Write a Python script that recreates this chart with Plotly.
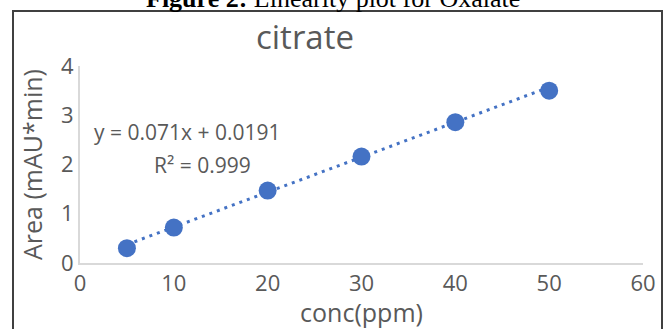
import plotly.graph_objects as go

# Calibration data for citrate
conc = [5, 10, 20, 30, 40, 50]
area = [0.30, 0.72, 1.47, 2.16, 2.86, 3.50]

# Linear fit reported on the chart
slope = 0.071
intercept = 0.0191
r_squared = 0.999

x_ticks = [0, 10, 20, 30, 40, 50, 60]
y_ticks = [0, 1, 2, 3, 4]

fit_x = [min(conc), max(conc)]
fit_y = [slope * x + intercept for x in fit_x]

blue = "#4472C4"
grey = "#595959"
font_family = "'Open Sans', sans-serif"

fig = go.Figure()
fig.add_trace(go.Scatter(
    x=fit_x, y=fit_y, mode="lines",
    line=dict(color=blue, width=3, dash="3px,5px"),
    hoverinfo="skip", showlegend=False,
))
fig.add_trace(go.Scatter(
    x=conc, y=area, mode="markers",
    marker=dict(color=blue, size=18),
    showlegend=False,
))

fig.add_annotation(x=11.4, y=2.66, xref="x", yref="y", showarrow=False,
                   text=f"y = {slope}x + {intercept}",
                   font=dict(family=font_family, size=21, color=grey))
fig.add_annotation(x=13.1, y=1.99, xref="x", yref="y", showarrow=False,
                   text=f"R² = {r_squared}",
                   font=dict(family=font_family, size=21, color=grey))

# Figure caption sitting above the framed chart
fig.add_annotation(x=(333 - 80) / 563, y=1.0, xref="paper", yref="paper",
                   xanchor="center", yanchor="bottom", yshift=51,
                   showarrow=False,
                   text="<b>Figure 2:</b> Linearity plot for Oxalate",
                   font=dict(family="'Liberation Serif', serif", size=26, color="black"))

# Chart frame
fig.add_shape(type="rect", xref="paper", yref="paper",
              x0=-67 / 563, x1=1 + 19 / 563, y0=-0.5, y1=1 + 55 / 197,
              line=dict(color="#404040", width=2), fillcolor="rgba(0,0,0,0)",
              layer="below")

fig.update_layout(
    width=672, height=329,
    margin=dict(l=80, r=29, t=66, b=66),
    paper_bgcolor="white", plot_bgcolor="white",
    title=dict(text="citrate", x=305 / 672, xanchor="center",
               y=1 - 37 / 329, yanchor="middle",
               font=dict(family=font_family, size=33, color=grey)),
    font=dict(family=font_family, color=grey),
)
fig.update_xaxes(
    range=[0, 60], tickvals=x_ticks, showgrid=False, zeroline=False,
    showline=True, linecolor="#D9D9D9", linewidth=2,
    ticks="", tickfont=dict(size=22, color=grey),
    title=dict(text="conc(ppm)", font=dict(size=25, color=grey), standoff=0),
)
fig.update_yaxes(
    range=[0, 4], tickvals=y_ticks, showgrid=False, zeroline=False,
    showline=True, linecolor="#D9D9D9", linewidth=2,
    ticks="", tickfont=dict(size=22, color=grey),
    title=dict(text="Area (mAU*min)", font=dict(size=25, color=grey), standoff=11),
)

fig.write_html("out.html")
